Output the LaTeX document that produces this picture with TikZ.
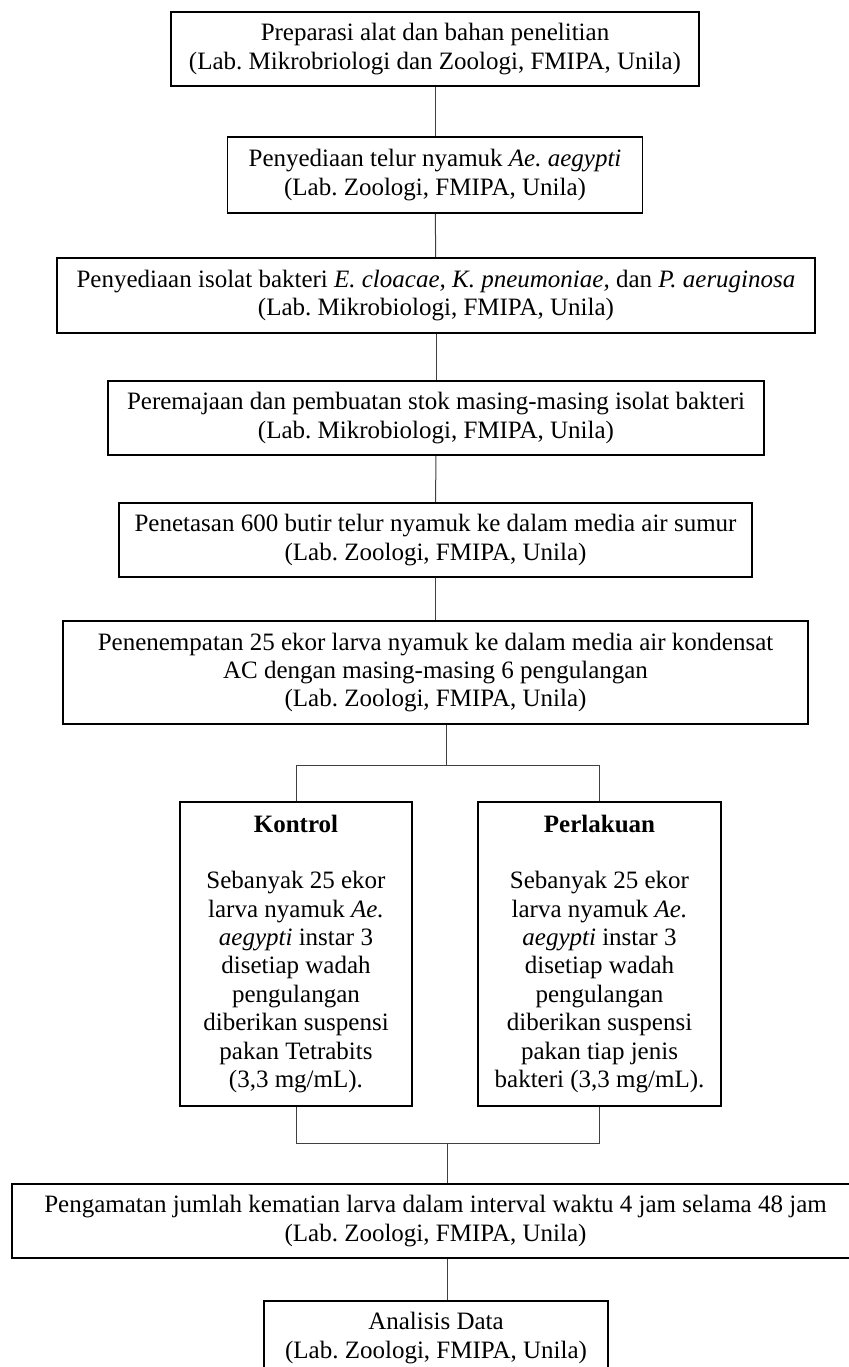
\documentclass[tikz,border=0pt]{standalone}
\usepackage{fontspec}
\setmainfont{Liberation Serif}
\usepackage{tikz}
\usetikzlibrary{arrows,shapes,positioning}
\frenchspacing

\begin{document}
\begin{tikzpicture}[x=0.5pt,y=-0.5pt,
        box/.style={draw, line width=0.9pt, align=center, inner sep=0pt, font=\fontsize{12.5}{14.2}\selectfont},
        link/.style={line width=0.5pt, black!75}]
        \useasboundingbox (0,0) rectangle (848,1367);

        \node[box, minimum width=264pt, minimum height=37pt] (prep) at (435,49)
            {Preparasi alat dan bahan penelitian\\(Lab. Mikrobriologi dan Zoologi, FMIPA, Unila)};
        \node[box, minimum width=207.5pt, minimum height=38pt] (telur) at (435,175)
            {Penyediaan telur nyamuk \textit{Ae. aegypti}\\(Lab. Zoologi, FMIPA, Unila)};
        \node[box, minimum width=379pt, minimum height=37.5pt] (isolat) at (436,295.5)
            {Penyediaan isolat bakteri \textit{E. cloacae, K. pneumoniae,} dan \textit{P. aeruginosa}\\(Lab. Mikrobiologi, FMIPA, Unila)};
        \node[box, minimum width=328pt, minimum height=37pt] (stok) at (436,418)
            {Peremajaan dan pembuatan stok masing-masing isolat bakteri\\(Lab. Mikrobiologi, FMIPA, Unila)};
        \node[box, minimum width=316.5pt, minimum height=37pt] (tetas) at (435.5,540)
            {Penetasan 600 butir telur nyamuk ke dalam media air sumur\\(Lab. Zoologi, FMIPA, Unila)};
        \node[box, minimum width=372.5pt, minimum height=51.5pt] (tempat) at (435.5,672.5)
            {Penenempatan 25 ekor larva nyamuk ke dalam media air kondensat\\AC dengan masing-masing 6 pengulangan\\(Lab. Zoologi, FMIPA, Unila)};

        \node[box, minimum width=116pt, minimum height=152pt] (kontrol) at (296,954)
            {\textbf{Kontrol}\\[14pt]Sebanyak 25 ekor\\larva nyamuk \textit{Ae.}\\\textit{aegypti} instar 3\\disetiap wadah\\pengulangan\\diberikan suspensi\\pakan Tetrabits\\(3,3 mg/mL).};
        \node[box, minimum width=121.5pt, minimum height=152pt] (perlakuan) at (599.5,954)
            {\textbf{Perlakuan}\\[14pt]Sebanyak 25 ekor\\larva nyamuk \textit{Ae.}\\\textit{aegypti} instar 3\\disetiap wadah\\pengulangan\\diberikan suspensi\\pakan tiap jenis\\bakteri (3,3 mg/mL).};

        \node[box, minimum width=423.5pt, minimum height=37pt] (amati) at (435.5,1221)
            {Pengamatan jumlah kematian larva dalam interval waktu 4 jam selama 48 jam\\(Lab. Zoologi, FMIPA, Unila)};
        \node[box, minimum width=172pt, minimum height=37pt] (analisis) at (436,1338)
            {Analisis Data\\(Lab. Zoologi, FMIPA, Unila)};

        \coordinate (bagi) at (446,765);
        \coordinate (gabung) at (447,1143);

        \draw[link] (prep) -- (telur);
        \draw[link] (telur) -- (isolat);
        \draw[link] (isolat) -- (stok);
        \draw[link] (stok) -- (tetas);
        \draw[link] (tetas) -- (tempat);
        \draw[link] (bagi |- tempat.south) -- (bagi);
        \draw[link] (kontrol) |- (bagi) -| (perlakuan);
        \draw[link] (kontrol) |- (gabung) -| (perlakuan);
        \draw[link] (gabung) -- (gabung |- amati.north);
        \draw[link] (gabung |- amati.south) -- (gabung |- analisis.north);
    \end{tikzpicture}
\end{document}
